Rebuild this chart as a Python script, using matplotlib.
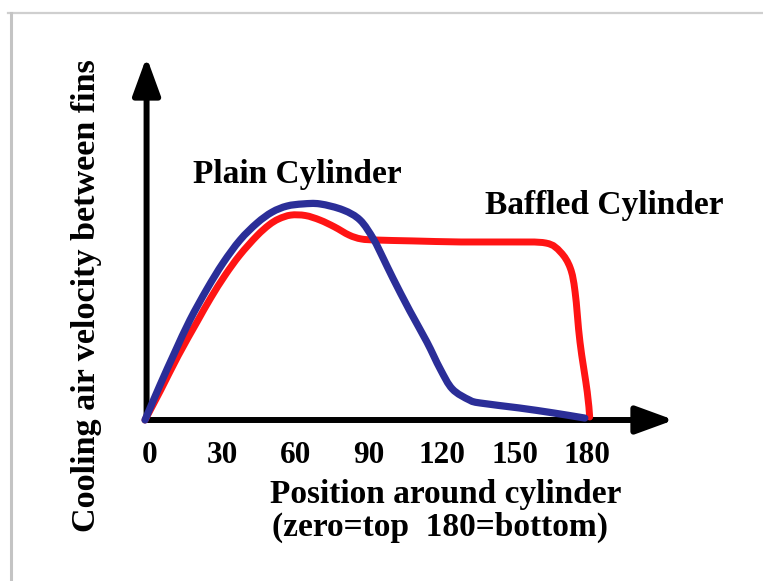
import matplotlib
matplotlib.use("Agg")
import numpy as np
import matplotlib.pyplot as plt
from matplotlib.lines import Line2D
from matplotlib.path import Path
from matplotlib.patches import PathPatch
from matplotlib.transforms import ScaledTranslation

# Position around the cylinder (degrees) and relative cooling-air velocity
plain_deg = [0, 6.2, 12.3, 18.5, 25.5, 32.1, 39.1, 46.1, 52.3, 58.4, 65, 72,
             81.5, 88.5, 94, 98, 102, 109, 116, 121.5, 126.5, 133.5, 138, 154,
             168, 181]
plain_vel = [0, 16.3, 31.6, 46.5, 60.9, 73.0, 83.7, 91.6, 96.7, 99.5, 100.5,
             100.5, 97.7, 93.0, 84.2, 75.3, 66.0, 50.7, 36.3, 23.7, 14.4, 9.3,
             7.9, 5.6, 3.3, 0.9]

baffled_deg = [0, 6.5, 13.6, 21.4, 27, 33, 39, 46, 51, 55, 60, 66, 72, 78, 84,
               89, 95.5, 110, 130, 150, 165, 171, 175, 177, 179, 182, 183]
baffled_vel = [0, 14.0, 29.8, 45.6, 56.7, 67.4, 76.7, 85.6, 90.7, 93.5, 95.3,
               95.1, 93.0, 89.8, 86.0, 84.2, 83.7, 83.3, 82.8, 82.8, 82.3, 78.1,
               70.7, 59.5, 36.3, 13.0, 1.4]

tick_values = [0, 30, 60, 90, 120, 150, 180]
tick_labels = ["0", "30", "60", "90", "120", "150", "180"]

W, H = 763, 581
fig = plt.figure(figsize=(W / 100, H / 100), dpi=100)
fig.patch.set_facecolor("white")

font = dict(family="Liberation Serif", weight="bold", color="black")


def smooth_path(xs, ys):
    """Cubic Bezier path passing through every point (Catmull-Rom tangents)."""
    p = np.column_stack([xs, ys]).astype(float)
    n = len(p)
    tang = np.zeros_like(p)
    tang[0] = p[1] - p[0]
    tang[-1] = p[-1] - p[-2]
    tang[1:-1] = (p[2:] - p[:-2]) / 2.0
    verts = [p[0]]
    codes = [Path.MOVETO]
    for i in range(n - 1):
        verts += [p[i] + tang[i] / 3.0, p[i + 1] - tang[i + 1] / 3.0, p[i + 1]]
        codes += [Path.CURVE4] * 3
    return Path(verts, codes)


# axes spanning from the origin to the arrow tips
x0, y0 = 145, 420
x1, y1 = 668, 62
ax = fig.add_axes([x0 / W, 1 - y0 / H, (x1 - x0) / W, (y0 - y1) / H])
ax.set_xlim(0, (x1 - x0) / 2.43)
ax.set_ylim(0, (y0 - y1) / 2.15)
for s in ax.spines.values():
    s.set_visible(False)
ax.set_yticks([])
ax.set_xticks(tick_values)
ax.set_xticklabels(tick_labels, fontsize=22.5, **font)
ax.tick_params(axis="x", length=0, pad=15)
for lab in ax.get_xticklabels():
    lab.set_transform(lab.get_transform() + ScaledTranslation(0.05, 0, fig.dpi_scale_trans))
ax.patch.set_alpha(0)

# axis arrows
arrow = dict(arrowstyle="-|>,head_length=1.15,head_width=0.42", lw=4.3,
             color="black", mutation_scale=20, shrinkA=0, shrinkB=0)
ax.annotate("", xy=(1 + 6 / (x1 - x0), 0), xytext=(0, 0), xycoords="axes fraction",
            arrowprops=arrow, annotation_clip=False)
ax.annotate("", xy=(0.003, 1 + 5 / (y0 - y1)), xytext=(0.003, 0),
            xycoords="axes fraction", arrowprops=arrow, annotation_clip=False)

# velocity curves
for xs, ys, col, lw, z in [(baffled_deg, baffled_vel, "#ff1414", 5.0, 3),
                           (plain_deg, plain_vel, "#2b2e98", 5.2, 4)]:
    ax.add_patch(PathPatch(smooth_path(xs, ys), facecolor="none", edgecolor=col,
                           lw=lw, joinstyle="round", capstyle="round",
                           clip_on=False, zorder=z))


# labels
def ftext(px, py, s, size=24, **kw):
    fig.text(px / W, 1 - py / H, s, ha="center", va="center", fontsize=size,
             **font, **kw)


ftext(297, 175, "Plain Cylinder")
ftext(604, 206, "Baffled Cylinder")
ftext(446, 494, "Position around cylinder")
ftext(440, 527, "(zero=top  180=bottom)")
ftext(87, 296, "Cooling air velocity between fins", size=24.6, rotation=90)

# thin frame along the top and left edges
fig.add_artist(Line2D([8 / W, 1], [1 - 12.5 / H, 1 - 12.5 / H], color="#cfcfcf", lw=1.6))
fig.add_artist(Line2D([11 / W, 11 / W], [0, 1 - 12.5 / H], color="#c4c4c4", lw=2.2))

fig.savefig("out.png", dpi=100)
